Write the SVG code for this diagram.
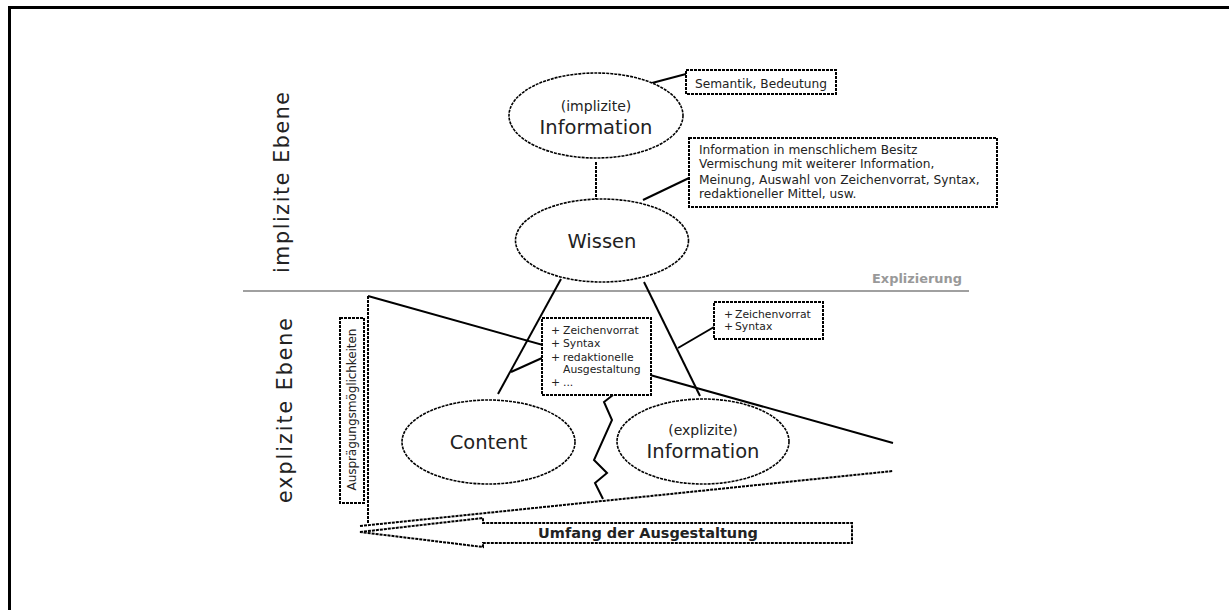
<svg xmlns="http://www.w3.org/2000/svg" width="1229" height="610" viewBox="0 0 1229 610">
<style>
text{font-family:"DejaVu Sans","Liberation Sans",sans-serif;fill:#222}
.big{font-size:19.5px}
.mid{font-size:14px}
.sm{font-size:12.2px}
.xs{font-size:10.8px}
.side{font-size:20.5px}
.ell{fill:#fff;stroke:#000;stroke-width:1.6;stroke-dasharray:3 1}
.box{fill:#fff;stroke:#000;stroke-width:2;stroke-dasharray:3 1}
.solid{fill:none;stroke:#000;stroke-width:2}
.dash{fill:none;stroke:#000;stroke-width:2;stroke-dasharray:3 1}
</style>
<rect width="1229" height="610" fill="#fff"/>
<path d="M9.5 610V7.5H1229" fill="none" stroke="#000" stroke-width="3"/>
<g id="levels">
<line x1="243" y1="291" x2="969" y2="291" stroke="#a0a0a0" stroke-width="2"/>
<text x="962" y="283" text-anchor="end" font-weight="bold" style="font-size:13px;fill:#999" textLength="90" lengthAdjust="spacingAndGlyphs">Explizierung</text>
<text class="side" transform="translate(288.5,182.5) rotate(-90)" text-anchor="middle" textLength="181" lengthAdjust="spacing">implizite Ebene</text>
<text class="side" transform="translate(292,410.5) rotate(-90)" text-anchor="middle" textLength="185" lengthAdjust="spacing">explizite Ebene</text>
</g>
<g id="connectors">
<polyline class="dash" points="368,296 368,524"/>
<line class="solid" x1="368" y1="296" x2="893" y2="443"/>
<line class="dash" x1="360" y1="526" x2="893" y2="471"/>
<line class="dash" x1="596" y1="162" x2="596" y2="200"/>
<line class="solid" x1="652" y1="83" x2="686" y2="74"/>
<line class="solid" x1="643" y1="200" x2="689" y2="178"/>
<line class="solid" x1="561" y1="279" x2="498" y2="394"/>
<line class="solid" x1="644" y1="282" x2="700" y2="396"/>
<line class="solid" x1="542" y1="358" x2="511" y2="372"/>
<line class="solid" x1="678" y1="348" x2="714" y2="327"/>
<polyline class="solid" points="613,395 604,402 612,420 594,460 607,473 595,483 603,499"/>
</g>
<g id="node-implizite-information">
<ellipse class="ell" cx="596" cy="115.5" rx="87" ry="42.5"/>
<text class="mid" x="596" y="110.5" text-anchor="middle">(implizite)</text>
<text class="big" x="596" y="134" text-anchor="middle">Information</text>
</g>
<g id="node-semantik">
<rect class="box" x="686" y="70" width="150" height="24"/>
<text class="sm" x="695" y="88">Semantik, Bedeutung</text>
</g>
<g id="node-besitz">
<rect class="box" x="689" y="138" width="308" height="69"/>
<text class="sm" x="699" y="154">Information in menschlichem Besitz</text>
<text class="sm" x="699" y="168">Vermischung mit weiterer Information,</text>
<text class="sm" x="699" y="184">Meinung, Auswahl von Zeichenvorrat, Syntax,</text>
<text class="sm" x="699" y="198">redaktioneller Mittel, usw.</text>
</g>
<g id="node-wissen">
<ellipse class="ell" cx="602" cy="240.5" rx="86.5" ry="41.5"/>
<text class="big" x="602" y="248" text-anchor="middle">Wissen</text>
</g>
<g id="node-auspraegung">
<rect class="box" x="340" y="318" width="24" height="185"/>
<text class="sm" transform="translate(356,409.5) rotate(-90)" text-anchor="middle" textLength="162" lengthAdjust="spacing">Ausprägungsmöglichkeiten</text>
</g>
<g id="node-mittel">
<rect class="box" x="542" y="318" width="109" height="77"/>
<text class="xs" x="551" y="334">+</text><text class="xs" x="563" y="334">Zeichenvorrat</text>
<text class="xs" x="551" y="346.5">+</text><text class="xs" x="563" y="346.5">Syntax</text>
<text class="xs" x="551" y="361">+</text><text class="xs" x="563" y="361">redaktionelle</text>
<text class="xs" x="563" y="373">Ausgestaltung</text>
<text class="xs" x="551" y="386">+</text><text class="xs" x="563" y="386">...</text>
</g>
<g id="node-syntax">
<rect class="box" x="714" y="302" width="109" height="37"/>
<text class="xs" x="724" y="318">+</text><text class="xs" x="735" y="318">Zeichenvorrat</text>
<text class="xs" x="724" y="330">+</text><text class="xs" x="735" y="330">Syntax</text>
</g>
<g id="node-content">
<ellipse class="ell" cx="488.5" cy="442" rx="86.5" ry="42"/>
<text class="big" x="488.5" y="449" text-anchor="middle">Content</text>
</g>
<g id="node-explizite-information">
<ellipse class="ell" cx="703" cy="441.5" rx="86" ry="42.5"/>
<text class="mid" x="703" y="435" text-anchor="middle">(explizite)</text>
<text class="big" x="703" y="457.5" text-anchor="middle">Information</text>
</g>
<g id="node-umfang">
<polygon class="box" points="360,532 483,518 483,523 852,523 852,543 483,543 483,547"/>
<text x="648" y="538" text-anchor="middle" font-weight="bold" style="font-size:14.5px">Umfang der Ausgestaltung</text>
</g>
</svg>
